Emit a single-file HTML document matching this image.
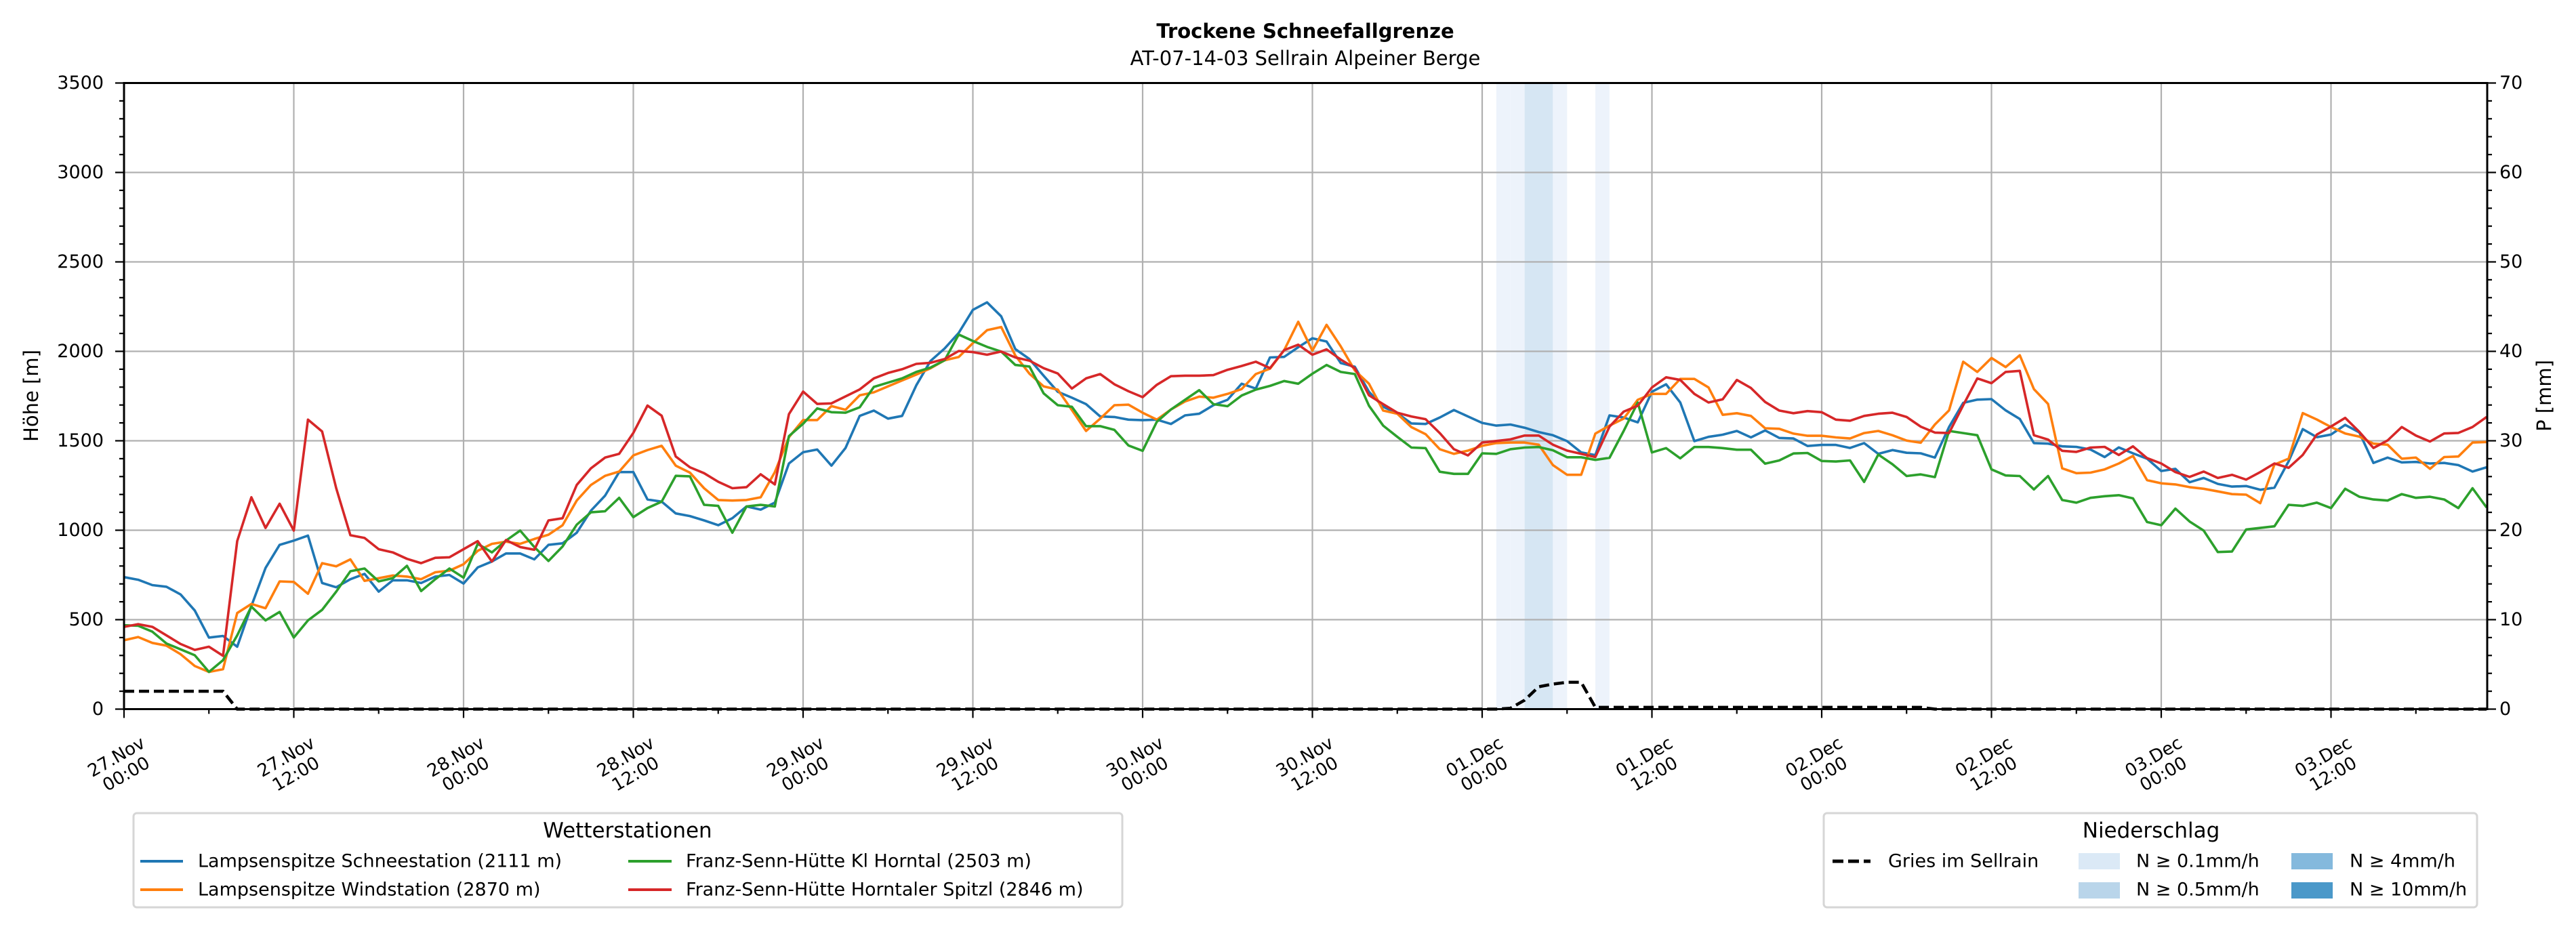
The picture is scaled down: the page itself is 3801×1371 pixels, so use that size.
<!DOCTYPE html>
<html><head><meta charset="utf-8"><title>Trockene Schneefallgrenze</title>
<style>
html,body{margin:0;padding:0;background:#fff;}
svg{display:block;font-family:"DejaVu Sans","Liberation Sans",sans-serif;}
</style></head>
<body>
<svg id="chart" width="3801" height="1371" viewBox="0 0 3801 1371" xmlns="http://www.w3.org/2000/svg">
<rect x="0" y="0" width="3801" height="1371" fill="#fff"/>
<text x="1926" y="46" text-anchor="middle" dominant-baseline="central" font-size="29" font-weight="bold">Trockene Schneefallgrenze</text>
<text x="1926" y="86" text-anchor="middle" dominant-baseline="central" font-size="29">AT-07-14-03 Sellrain Alpeiner Berge</text>
<g id="bands"></g>
<g id="grid"></g>
<g id="series"></g>
<g id="axes"></g>
<text x="46" y="584" text-anchor="middle" dominant-baseline="central" font-size="29" transform="rotate(-90 46 584)">Höhe [m]</text>
<text x="3754" y="584" text-anchor="middle" dominant-baseline="central" font-size="29" transform="rotate(-90 3754 584)">P [mm]</text>

<g>
<rect x="197" y="1200" width="1459" height="139" rx="5" fill="#fff" stroke="#d6d6d6" stroke-width="3"/>
<text x="926" y="1226" text-anchor="middle" dominant-baseline="central" font-size="31">Wetterstationen</text>
<line x1="207" y1="1271" x2="270" y2="1271" stroke="#1f77b4" stroke-width="4"/>
<text x="292" y="1271" dominant-baseline="central" font-size="27">Lampsenspitze Schneestation (2111 m)</text>
<line x1="207" y1="1313" x2="270" y2="1313" stroke="#ff7f0e" stroke-width="4"/>
<text x="292" y="1313" dominant-baseline="central" font-size="27">Lampsenspitze Windstation (2870 m)</text>
<line x1="927" y1="1271" x2="991" y2="1271" stroke="#2ca02c" stroke-width="4"/>
<text x="1012" y="1271" dominant-baseline="central" font-size="27">Franz-Senn-Hütte Kl Horntal (2503 m)</text>
<line x1="927" y1="1313" x2="991" y2="1313" stroke="#d62728" stroke-width="4"/>
<text x="1012" y="1313" dominant-baseline="central" font-size="27">Franz-Senn-Hütte Horntaler Spitzl (2846 m)</text>
</g>

<g>
<rect x="2691" y="1200" width="964" height="139" rx="5" fill="#fff" stroke="#d6d6d6" stroke-width="3"/>
<text x="3174" y="1226" text-anchor="middle" dominant-baseline="central" font-size="31">Niederschlag</text>
<line x1="2704" y1="1271" x2="2760" y2="1271" stroke="#000" stroke-width="5" stroke-dasharray="16 7"/>
<text x="2786" y="1271" dominant-baseline="central" font-size="27">Gries im Sellrain</text>
<rect x="3067" y="1259" width="61" height="24" fill="#dbe9f6"/>
<text x="3152" y="1271" dominant-baseline="central" font-size="27">N ≥ 0.1mm/h</text>
<rect x="3067" y="1302" width="61" height="24" fill="#b9d5ea"/>
<text x="3152" y="1313" dominant-baseline="central" font-size="27">N ≥ 0.5mm/h</text>
<rect x="3381" y="1259" width="61" height="24" fill="#84b9dd"/>
<text x="3467" y="1271" dominant-baseline="central" font-size="27">N ≥ 4mm/h</text>
<rect x="3381" y="1302" width="61" height="24" fill="#4a98c9"/>
<text x="3467" y="1313" dominant-baseline="central" font-size="27">N ≥ 10mm/h</text>
</g>
</svg>
<script>
// ---- data (hourly, starting 27.Nov 00:00) ----
const hourLabels = ["27.Nov|00:00","27.Nov|12:00","28.Nov|00:00","28.Nov|12:00","29.Nov|00:00","29.Nov|12:00","30.Nov|00:00","30.Nov|12:00","01.Dec|00:00","01.Dec|12:00","02.Dec|00:00","02.Dec|12:00","03.Dec|00:00","03.Dec|12:00"];
const yTicksLeft = [0,500,1000,1500,2000,2500,3000,3500];
const yTicksRight = [0,10,20,30,40,50,60,70];
const schneestation = [738,723,693,684,641,551,400,409,349,576,789,918,942,970,705,681,726,756,657,720,720,705,741,750,702,792,825,870,870,
837,918,927,986,1109,1193,1325,1325,1172,1160,1094,1079,1055,1028,1067,1133,1115,1154,1373,1436,1451,1361,1460,1639,1669,1624,1639,1810,
1946,2016,2103,2232,2274,2196,2013,1957,1864,1774,1741,1705,1636,1633,1618,1615,1618,1594,1642,1651,1699,1729,1819,1792,1966,1969,2023,2073,
2055,1935,1914,1774,1690,1654,1597,1594,1630,1672,1636,1600,1585,1591,1573,1549,1531,1498,1435,1420,1642,1630,1603,1774,1816,1714,1498,1522,
1534,1555,1519,1558,1516,1513,1471,1477,1477,1460,1487,1427,1448,1433,1430,1406,1577,1712,1730,1733,1670,1622,1487,1484,1469,1466,1451,1409,
1463,1430,1400,1331,1343,1268,1292,1259,1244,1247,1226,1238,1385,1565,1520,1535,1589,1547,1376,1406,1379,1382,1373,1376,1364,1328,1352];
const windstation = [385,403,370,355,307,241,208,223,537,588,564,714,711,645,816,798,837,717,732,747,741,726,765,774,810,885,924,936,924,
951,975,1028,1166,1253,1304,1328,1418,1448,1472,1361,1322,1235,1169,1166,1169,1184,1325,1520,1616,1616,1694,1673,1754,1771,1804,1837,1870,
1905,1950,1968,2046,2118,2136,1977,1875,1804,1786,1672,1555,1624,1699,1702,1657,1618,1675,1720,1747,1741,1762,1789,1873,1903,2006,2165,2004,
2148,2028,1893,1819,1669,1651,1576,1537,1453,1427,1445,1472,1487,1490,1490,1478,1364,1310,1310,1540,1585,1624,1729,1762,1762,1846,1846,1798,
1645,1654,1639,1570,1567,1540,1528,1528,1519,1513,1543,1555,1531,1501,1489,1591,1670,1942,1885,1963,1912,1978,1789,1706,1346,1319,1322,1340,
1373,1415,1280,1262,1256,1241,1232,1217,1202,1199,1151,1367,1400,1655,1619,1577,1541,1523,1484,1478,1400,1406,1343,1409,1412,1490,1493];
const klHorntal = [469,466,433,367,334,301,208,274,412,573,496,543,400,496,555,657,771,786,714,732,801,660,726,786,735,924,876,942,998,
906,828,909,1031,1100,1106,1181,1073,1124,1160,1304,1301,1142,1136,986,1133,1142,1133,1526,1595,1681,1660,1657,1687,1801,1825,1849,1885,
1909,1950,2094,2058,2025,1999,1924,1915,1765,1699,1690,1582,1582,1561,1474,1444,1606,1675,1729,1783,1705,1693,1753,1786,1807,1834,1819,1875,
1924,1885,1873,1696,1585,1522,1462,1459,1327,1315,1315,1430,1427,1453,1462,1465,1447,1408,1408,1393,1405,1555,1714,1435,1459,1402,1465,1465,
1459,1450,1450,1372,1390,1429,1432,1387,1384,1390,1270,1423,1369,1303,1312,1297,1555,1543,1531,1340,1306,1303,1228,1303,1169,1154,1181,1190,
1196,1178,1046,1028,1121,1049,998,878,881,1004,1013,1022,1142,1136,1154,1124,1232,1187,1172,1166,1202,1181,1187,1172,1124,1235,1127];
const horntalerSpitzl = [460,475,460,412,364,331,349,298,939,1184,1013,1148,998,1618,1552,1235,972,957,894,876,840,816,846,849,894,939,825,945,906,
891,1055,1067,1253,1346,1406,1427,1544,1697,1640,1412,1352,1319,1271,1235,1241,1313,1256,1649,1775,1706,1709,1748,1787,1849,1879,1900,1930,
1936,1957,2002,1996,1981,1999,1966,1948,1906,1876,1792,1849,1873,1816,1777,1744,1813,1861,1864,1864,1867,1897,1918,1942,1906,2007,2037,1981,
2011,1954,1906,1754,1705,1657,1636,1621,1543,1453,1418,1490,1499,1508,1529,1529,1478,1445,1427,1409,1579,1663,1696,1798,1855,1840,1762,1714,
1732,1840,1795,1717,1669,1654,1666,1660,1618,1612,1639,1651,1657,1633,1579,1546,1543,1699,1849,1822,1885,1891,1531,1507,1444,1438,1462,1466,
1421,1469,1403,1373,1325,1298,1328,1292,1310,1283,1325,1373,1349,1421,1535,1580,1628,1550,1460,1502,1577,1529,1496,1541,1544,1577,1633];
const griesPrecip = [2,2,2,2,2,2,2,2,0,0,0,0,0,0,0,0,0,0,0,0,0,0,0,0,0,0,0,0,0,0,
0,0,0,0,0,0,0,0,0,0,0,0,0,0,0,0,0,0,0,0,0,0,0,0,0,0,0,0,0,0,
0,0,0,0,0,0,0,0,0,0,0,0,0,0,0,0,0,0,0,0,0,0,0,0,0,0,0,0,0,0,
0,0,0,0,0,0,0,0,0.1,1.0,2.5,2.8,3.0,3.0,0.2,0.2,0.2,0.2,0.2,0.2,0.2,0.2,0.2,0.2,0.2,0.2,0.2,0.2,0.2,0.2,0.2,0.2,0.2,0.2,
0.2,0.2,0.2,0.2,0,0,0,0,0,0,0,0,0,0,0,0,0,0,0,0,0,0,0,0,0,0,0,0,0,0,
0,0,0,0,0,0,0,0,0,0,0,0,0,0];
const bandHours = [97,98,99,100,101,104];
const bandLevels = [1,1,2,2,1,1];

// ---- scales ----
const X0 = 183, PXH = 20.875, XR = 3670, YB = 1046.5, YT = 122.5;
const NS = "http://www.w3.org/2000/svg";
function xs(h){ return X0 + h*PXH; }
function ys(v){ return YB - v*(YB-YT)/3500; }
function ys2(p){ return YB - p*(YB-YT)/70; }
function mk(tag, attrs, parent){
  const el = document.createElementNS(NS, tag);
  for (const k in attrs) el.setAttribute(k, attrs[k]);
  parent.appendChild(el);
  return el;
}
const gBands = document.getElementById('bands');
const gGrid = document.getElementById('grid');
const gSeries = document.getElementById('series');
const gAxes = document.getElementById('axes');

const bandColors = {1:"#edf3fb", 2:"#d6e6f3"};
bandHours.forEach((h,i)=>{
  const r = mk('rect',{x:xs(h), y:YT, width:PXH, height:YB-YT, fill:bandColors[bandLevels[i]]}, gBands);
  
  
});

hourLabels.forEach((lab,i)=>{
  const x = xs(i*12);
  const l = mk('line',{x1:x,y1:YT,x2:x,y2:YB,stroke:"#b0b0b0","stroke-width":2.2}, gGrid);
  
  
});
yTicksLeft.forEach(v=>{
  const y = ys(v);
  const l = mk('line',{x1:X0,y1:y,x2:XR,y2:y,stroke:"#b0b0b0","stroke-width":2.2}, gGrid);
  
  
});

function drawLine(arr, color, name){
  const pts = arr.map((v,i)=>xs(i).toFixed(1)+","+ys(v).toFixed(1)).join(" ");
  const p = mk('polyline',{points:pts, fill:"none", stroke:color, "stroke-width":3.6, "stroke-linejoin":"round"}, gSeries);
  
  
}
drawLine(schneestation, "#1f77b4", "line-schneestation");
drawLine(windstation, "#ff7f0e", "line-windstation");
drawLine(klHorntal, "#2ca02c", "line-kl-horntal");
drawLine(horntalerSpitzl, "#d62728", "line-horntaler-spitzl");
const gp = mk('polyline',{points:griesPrecip.map((v,i)=>xs(i).toFixed(1)+","+ys2(v).toFixed(1)).join(" "), fill:"none", stroke:"#000","stroke-width":4.5,"stroke-dasharray":"15 7"}, gSeries);



const sp = mk('rect',{x:X0,y:YT,width:XR-X0,height:YB-YT,fill:"none",stroke:"#000","stroke-width":3}, gAxes);



for (let v=0; v<=3500; v+=100){
  const major = v%500===0;
  const t = mk('line',{x1:X0,y1:ys(v),x2:X0-(major?13:7),y2:ys(v),stroke:"#000","stroke-width":2.2}, gAxes);
  
  
}
yTicksLeft.forEach(v=>{
  const t = mk('text',{x:153,y:ys(v),"text-anchor":"end","dominant-baseline":"central","font-size":27}, gAxes);
  t.textContent = String(v);
  
  
});
for (let p=0; p<=70; p+=2){
  const major = p%10===0;
  const t = mk('line',{x1:XR,y1:ys2(p),x2:XR+(major?13:7),y2:ys2(p),stroke:"#000","stroke-width":2.2}, gAxes);
  
  
}
yTicksRight.forEach(p=>{
  const t = mk('text',{x:3688,y:ys2(p),"text-anchor":"start","dominant-baseline":"central","font-size":27}, gAxes);
  t.textContent = String(p);
  
  
});
for (let h=0; h<=167; h+=6){
  const major = h%12===0;
  const t = mk('line',{x1:xs(h),y1:YB,x2:xs(h),y2:YB+(major?13:7),stroke:"#000","stroke-width":2.2}, gAxes);
  
  
}
hourLabels.forEach((lab,i)=>{
  const cx = xs(i*12)-5, cy = 1128;
  const parts = lab.split("|");
  const t = mk('text',{x:cx,y:cy,"text-anchor":"middle","font-size":26,transform:`rotate(-30 ${cx} ${cy})`}, gAxes);
  
  
  const s1 = mk('tspan',{x:cx,dy:-4}, t); s1.textContent = parts[0];
  const s2 = mk('tspan',{x:cx,dy:29}, t); s2.textContent = parts[1];
});
</script>
</body></html>
